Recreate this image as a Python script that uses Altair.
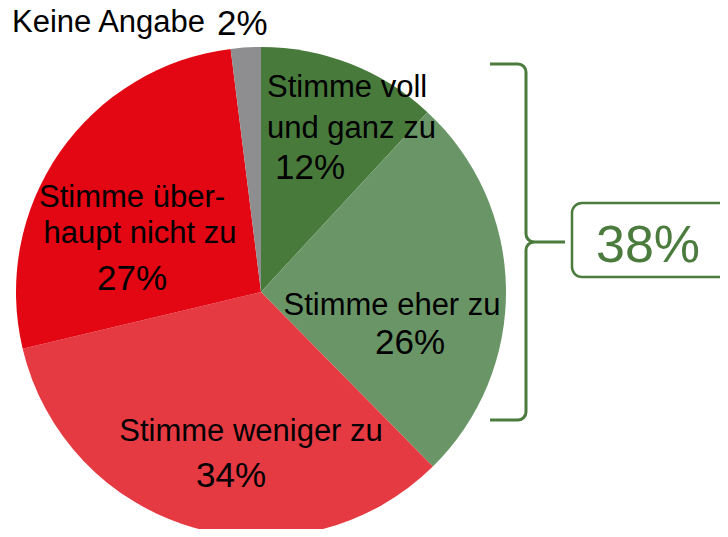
import math
import altair as alt
import pandas as pd

# ---- data ----
categories = ["Stimme voll und ganz zu", "Stimme eher zu", "Stimme weniger zu",
              "Stimme überhaupt nicht zu", "Keine Angabe"]
values = [12, 26, 34, 27, 2]
colors = ["#487A3C", "#6A9667", "#E63A43", "#E30613", "#8E8E90"]
label_lines = [["Stimme voll", "und ganz zu"], ["Stimme eher zu"], ["Stimme weniger zu"],
               ["Stimme über-", "haupt nicht zu"], ["Keine Angabe"]]
agree_total = values[0] + values[1]

GREEN = "#4B7B3D"
FONT = "Liberation Sans"

df = pd.DataFrame({"category": categories, "value": values, "order": list(range(len(values)))})

pie = alt.Chart(df).mark_arc(radius=245, stroke=None).encode(
    theta=alt.Theta("value:Q", stack=True),
    color=alt.Color("category:N", scale=alt.Scale(domain=categories, range=colors), legend=None),
    order=alt.Order("order:Q"),
    x=alt.value(253), y=alt.value(284),
)

def txt(s, x, y, size, align="left", color="black"):
    return alt.Chart(pd.DataFrame({"t": [s]})).mark_text(
        font=FONT, fontSize=size, align=align, baseline="alphabetic", color=color
    ).encode(text="t:N", x=alt.value(x), y=alt.value(y))

# label layout (positions are layout, not data)
layers = [pie]
layers += [
    txt(label_lines[0][0], 259, 89, 31),
    txt(label_lines[0][1], 259, 130, 31),
    txt(f"{values[0]}%", 267, 171, 35),
    txt(label_lines[1][0], 384, 307, 31, "center"),
    txt(f"{values[1]}%", 402, 346, 35, "center"),
    txt(label_lines[2][0], 243, 433, 31, "center"),
    txt(f"{values[2]}%", 223, 479, 35, "center"),
    txt(label_lines[3][0], 124, 199, 31, "center"),
    txt(label_lines[3][1], 132, 235, 31, "center"),
    txt(f"{values[3]}%", 124, 282, 35, "center"),
    txt(label_lines[4][0], 4, 24, 31),
    txt(f"{values[4]}%", 209, 27, 35),
]

one = pd.DataFrame({"a": [0]})

def rule(x1, x2, y1, y2):
    return alt.Chart(one).mark_rule(color=GREEN, strokeWidth=3, strokeCap="butt").encode(
        x=alt.value(x1), x2=alt.value(x2), y=alt.value(y1), y2=alt.value(y2))

def corner(cx, cy, t1, t2):
    return alt.Chart(one).mark_arc(innerRadius=6.5, outerRadius=9.5, theta=t1, theta2=t2,
                                   color=GREEN).encode(x=alt.value(cx), y=alt.value(cy))

pi = math.pi
layers += [
    rule(482, 510, 56, 56),
    corner(510, 64, 0, pi / 2),
    rule(518, 518, 64, 226),
    corner(526, 226, pi, 1.5 * pi),
    rule(526, 557, 234, 234),
    corner(526, 242, 1.5 * pi, 2 * pi),
    rule(518, 518, 242, 404),
    corner(510, 404, pi / 2, pi),
    rule(482, 510, 412, 412),
]

box = alt.Chart(one).mark_rect(cornerRadius=10, fill="white", stroke=GREEN, strokeWidth=2.5).encode(
    x=alt.value(564), x2=alt.value(735), y=alt.value(195), y2=alt.value(269))
layers += [box, txt(f"{agree_total}%", 640, 254, 52, "center", GREEN)]

chart = alt.layer(*layers).properties(
    width=712, height=521, padding=0, autosize=alt.AutoSizeParams(type="none")
).configure_view(stroke=None)

chart.save("out.html", embed_options={"renderer": "svg", "actions": False})
